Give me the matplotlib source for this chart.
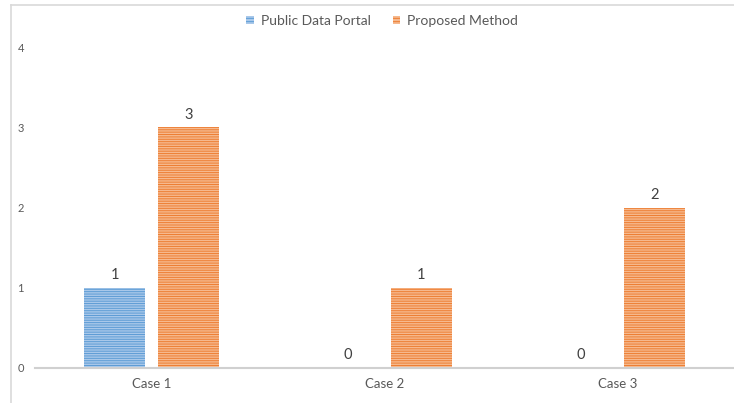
import matplotlib.pyplot as plt
import numpy as np
from matplotlib.lines import Line2D
from matplotlib.patches import Patch

plt.rcParams['font.family'] = ['Lato', 'DejaVu Sans']
plt.rcParams['hatch.linewidth'] = 0.7

cases = ["Case 1", "Case 2", "Case 3"]
public_portal = [1, 0, 0]
proposed = [3, 1, 2]
series_names = ["Public Data Portal", "Proposed Method"]

blue_face, blue_hatch = "#A9C8EA", "#5B9BD5"
orange_face, orange_hatch = "#F6B98E", "#ED7D31"

fig = plt.figure(figsize=(7.34, 4.03), dpi=100)
ax = fig.add_axes([35 / 734, 35 / 403, 1 - 35 / 734, 321 / 403])

x = np.arange(len(cases))
w = 0.262
b1 = ax.bar(x - 0.158, public_portal, w, color=blue_face, edgecolor=blue_hatch,
            hatch="-------", linewidth=0)
b2 = ax.bar(x + 0.158, proposed, w, color=orange_face, edgecolor=orange_hatch,
            hatch="-------", linewidth=0)

for bars in (b1, b2):
    for r in bars:
        ax.annotate(str(int(r.get_height())), (r.get_x() + r.get_width() / 2, r.get_height()),
                    xytext=(0, 4), textcoords="offset points", ha="center", va="bottom",
                    fontsize=10.5, color="#404040")

ax.set_xlim(-0.5, 2.5)
ax.set_ylim(0, 4)
ax.set_yticks([0, 1, 2, 3, 4])
ax.set_xticks(x)
ax.set_xticklabels(cases)
ax.tick_params(axis="y", length=0, labelsize=8, labelcolor="#595959", pad=8)
ax.tick_params(axis="x", length=0, labelsize=9.5, labelcolor="#595959", pad=7)
for s in ("top", "right", "left"):
    ax.spines[s].set_visible(False)
ax.spines["bottom"].set_color("#D0D0D0")
ax.spines["bottom"].set_linewidth(1.5)

# chart frame
fig.add_artist(Line2D([10.5 / 734, 10.5 / 734], [0, 1 - 4.5 / 403], color="#D9D9D9", lw=1.2))
fig.add_artist(Line2D([10.5 / 734, 1], [1 - 4.5 / 403, 1 - 4.5 / 403], color="#D9D9D9", lw=1.2))

handles = [Patch(facecolor=blue_face, edgecolor=blue_hatch, hatch="-----", linewidth=0),
           Patch(facecolor=orange_face, edgecolor=orange_hatch, hatch="-----", linewidth=0)]
fig.legend(handles, series_names, loc="center", bbox_to_anchor=(382 / 734, 1 - 21 / 403),
           ncol=2, frameon=False, fontsize=10, handlelength=0.55, handleheight=0.55,
           handletextpad=0.5, columnspacing=1.6, labelcolor="#595959")

fig.savefig("out.png", dpi=100)
